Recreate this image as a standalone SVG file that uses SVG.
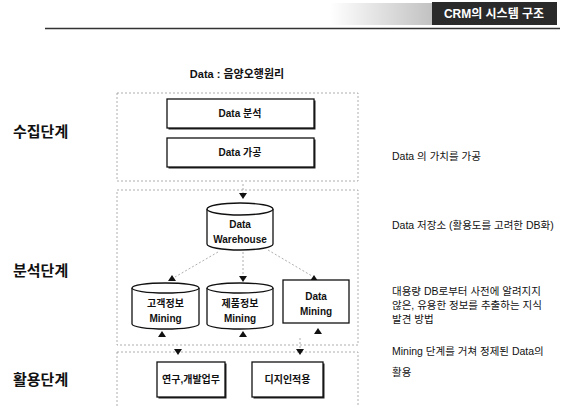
<svg xmlns="http://www.w3.org/2000/svg" width="566" height="407" viewBox="0 0 566 407">
<style>
.t{font-family:"Liberation Sans","Noto Sans CJK KR",sans-serif;fill:#111}
.b{font-weight:bold}
.stage{font-size:15px;font-weight:bold}
.desc{font-size:10.5px}
.nt{font-size:10px;font-weight:bold;text-anchor:middle}
.frame{fill:none;stroke:#999;stroke-width:0.8;stroke-dasharray:2 2}
.node{fill:#fff;stroke:#111;stroke-width:1.3}
.shadow{fill:#222}
.con{fill:none;stroke:#999;stroke-width:0.8;stroke-dasharray:2 2}
.ah{fill:#111}
</style>
<defs>
<linearGradient id="hg" x1="0" x2="1" y1="0" y2="0">
<stop offset="0" stop-color="#fff"/>
<stop offset="1" stop-color="#999"/>
</linearGradient>
</defs>
<rect width="566" height="407" fill="#fff"/>
<g id="header">
<rect x="330" y="3" width="102" height="22" fill="url(#hg)" opacity="0.6"/>
<rect x="432" y="2" width="125" height="23" fill="#2a2a2a"/>
<text x="494" y="18" class="t b" font-size="12" style="fill:#fff" text-anchor="middle">CRM의 시스템 구조</text>
<line x1="45" y1="28.5" x2="560" y2="28.5" stroke="#333" stroke-width="1.5"/>
</g>
<g id="title"><text x="237" y="78" class="t b" font-size="11" text-anchor="middle">Data : 음양오행원리</text></g>
<g id="stages">
<text x="13" y="137" class="t stage">수집단계</text>
<text x="13" y="276" class="t stage">분석단계</text>
<text x="13" y="385" class="t stage">활용단계</text>
</g>
<g id="descriptions">
<text x="392" y="160" class="t desc">Data 의 가치를 가공</text>
<text x="392" y="229" class="t desc">Data 저장소 (활용도를 고려한 DB화)</text>
<text x="392" y="295" class="t desc">대용량 DB로부터 사전에 알려지지</text>
<text x="392" y="309" class="t desc">않은, 유용한 정보를 추출하는 지식</text>
<text x="392" y="323" class="t desc">발견 방법</text>
<text x="392" y="355" class="t desc">Mining 단계를 거쳐 정제된 Data의</text>
<text x="392" y="376" class="t desc">활용</text>
</g>
<g id="frames">
<rect x="117" y="93" width="241" height="88" class="frame"/>
<rect x="117" y="190" width="241" height="155" class="frame"/>
<rect x="117" y="352" width="241" height="70" class="frame"/>
</g>
<g id="connectors">
<line x1="243" y1="184" x2="243" y2="193" class="con"/>
<path d="M239,193 L247,193 L243,199 Z" class="ah"/>
<line x1="218" y1="252" x2="175" y2="277" class="con"/>
<path d="M172,275 L176,281 L168,281 Z" class="ah"/>
<line x1="243" y1="252" x2="243" y2="276" class="con"/>
<path d="M239,276 L247,276 L243,282 Z" class="ah"/>
<line x1="268" y1="250" x2="312" y2="276" class="con"/>
<path d="M314,275 L318,281 L310,281 Z" class="ah"/>
<path d="M162,331 L166,337 L158,337 Z" class="ah"/>
<path d="M243,331 L247,337 L239,337 Z" class="ah"/>
<path d="M318,328 L322,334 L314,334 Z" class="ah"/>
<line x1="300" y1="338" x2="300" y2="349" class="con"/>
<path d="M174,349 L182,349 L178,355 Z" class="ah"/>
<path d="M296,349 L304,349 L300,355 Z" class="ah"/>
</g>
<g id="data-analysis">
<rect x="168.5" y="100.5" width="147" height="29" class="shadow"/>
<rect x="167" y="99" width="147" height="29" class="node"/>
<text x="240" y="117" class="t nt">Data 분석</text>
</g>
<g id="data-processing">
<rect x="168.5" y="139.5" width="147" height="29" class="shadow"/>
<rect x="167" y="138" width="147" height="29" class="node"/>
<text x="240" y="156" class="t nt">Data 가공</text>
</g>
<g id="data-warehouse">
<path d="M207,209 A33,6 0 0 1 273,209 V244 A33,6 0 0 1 207,244 Z" class="node"/>
<path d="M207,209 A33,6 0 0 0 273,209" class="node" fill="none"/>
<text x="240" y="228" class="t nt" font-size="11">Data</text>
<text x="240" y="243" class="t nt" font-size="11">Warehouse</text>
</g>
<g id="customer-mining">
<path d="M132,288 A33.5,5 0 0 1 199,288 V324 A33.5,5 0 0 1 132,324 Z" class="node"/>
<path d="M132,288 A33.5,5 0 0 0 199,288" class="node" fill="none"/>
<text x="165.5" y="307" class="t nt">고객정보</text>
<text x="165.5" y="322" class="t nt">Mining</text>
</g>
<g id="product-mining">
<path d="M207,288 A33,5 0 0 1 273,288 V324 A33,5 0 0 1 207,324 Z" class="node"/>
<path d="M207,288 A33,5 0 0 0 273,288" class="node" fill="none"/>
<text x="240" y="307" class="t nt">제품정보</text>
<text x="240" y="322" class="t nt">Mining</text>
</g>
<g id="data-mining">
<rect x="283" y="280" width="66" height="43" class="node"/>
<text x="316" y="300" class="t nt">Data</text>
<text x="316" y="315" class="t nt">Mining</text>
</g>
<g id="research">
<rect x="158.5" y="363.5" width="68" height="35" class="shadow"/>
<rect x="157" y="362" width="68" height="35" class="node"/>
<text x="191" y="383" class="t nt">연구,개발업무</text>
</g>
<g id="design">
<rect x="253.5" y="363.5" width="71" height="35" class="shadow"/>
<rect x="252" y="362" width="71" height="35" class="node"/>
<text x="287.5" y="383" class="t nt">디지인적용</text>
</g>
</svg>
